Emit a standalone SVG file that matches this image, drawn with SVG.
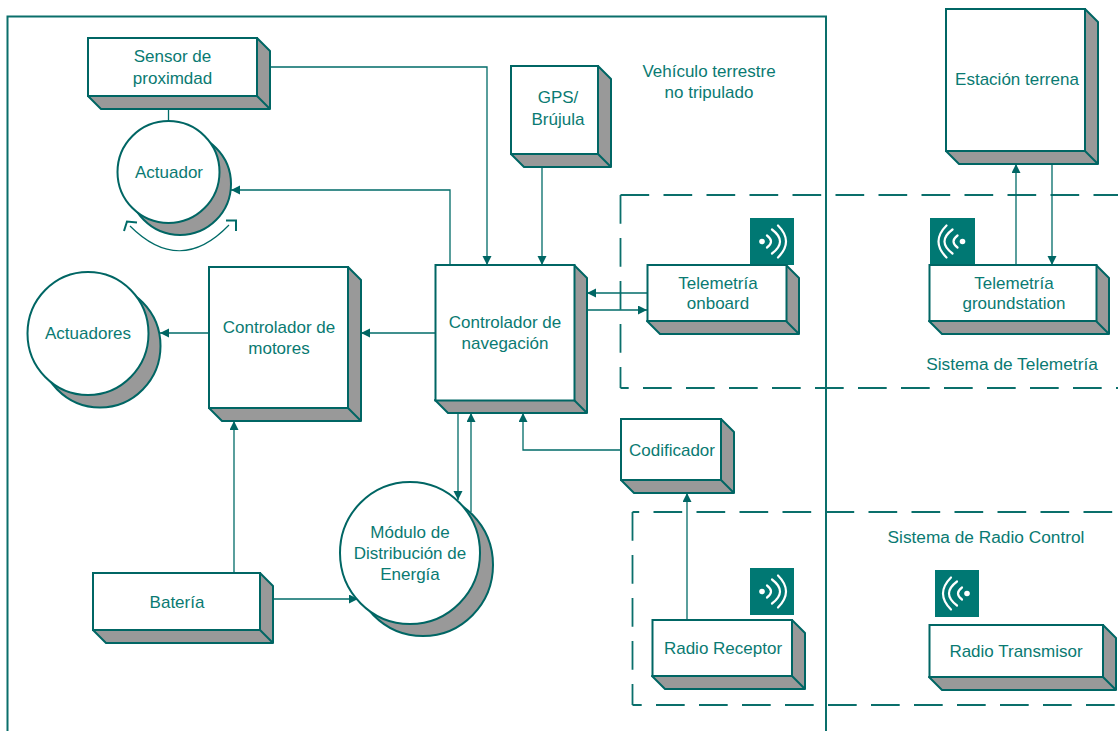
<svg xmlns="http://www.w3.org/2000/svg" width="1118" height="731" viewBox="0 0 1118 731">
<style>
text{font-family:"Liberation Sans",Arial,sans-serif;font-size:17px;fill:#0a7a72;text-anchor:middle}
.l{font-size:17.300px}
.f{fill:#fff;stroke:#006664;stroke-width:2}
.s{fill:#999;stroke:#006664;stroke-width:2;stroke-linejoin:round}
.c{fill:none;stroke:#006b68;stroke-width:1.300}
.a{marker-end:url(#arr)}
.d{fill:none;stroke:#0a6f6b;stroke-width:1.800;stroke-dasharray:28.700 14.300}
.ic{fill:#007873}
.w{fill:none;stroke:#fff;stroke-width:2.200;stroke-linecap:round}
</style>
<defs>
<marker id="arr" markerUnits="userSpaceOnUse" markerWidth="10" markerHeight="10" refX="9" refY="4.500" orient="auto"><path d="M0 0L9 4.500L0 9z" fill="#006664"/></marker>
<g id="txr"><circle cx="-10" cy="0" r="2.800" fill="#fff" stroke="none"/><path class="w" d="M-5-6Q3 0-5 6M0-12Q16 0 0 12M6-16Q22 0 6 16"/></g>
<g id="txl"><circle cx="10" cy="0" r="2.800" fill="#fff" stroke="none"/><path class="w" d="M5-6Q-3 0 5 6M0-12Q-16 0 0 12M-6-16Q-22 0-6 16"/></g>
</defs>
<g id="frames">
<path d="M826 731V16.500H7.500V731" fill="none" stroke="#0a6f6b" stroke-width="2"/>
<path class="d" d="M620.500 195H1118"/>
<path class="d" d="M620.500 195V388"/>
<path class="d" d="M620.500 388H1118" stroke-dashoffset="20.500"/>
<path class="d" d="M632.500 512H1118" stroke-dashoffset="22"/>
<path class="d" d="M632.500 512V705"/>
<path class="d" d="M632.500 705H1118" stroke-dashoffset="19.500"/>
</g>
<g id="connectors">
<path class="c a" d="M270 67H487V265"/>
<path class="c a" d="M542 167V265"/>
<path class="c a" d="M450 265V190H231"/>
<path class="c" d="M168.500 109V121"/>
<path class="c a" d="M435 333H361"/>
<path class="c a" d="M209 333H160"/>
<path class="c a" d="M647 293H587"/>
<path class="c a" d="M587 310H647"/>
<path class="c a" d="M1016 265V164"/>
<path class="c a" d="M1052 164V265"/>
<path class="c a" d="M458 413V500"/>
<path class="c a" d="M471 512V413"/>
<path class="c a" d="M621 450H523V413"/>
<path class="c a" d="M687 620V493"/>
<path class="c a" d="M234 573V421"/>
<path class="c a" d="M273 599H358"/>
</g>
<g id="sensor"><path class="s" d="M88 96L101 109H270V51L257 38V96z"/><path class="s" d="M257 96L270 109"/><rect class="f" x="88" y="38" width="169" height="58"/><text x="172.500" y="62">Sensor de</text><text x="172.500" y="84">proximdad</text></g>
<g id="actuador"><circle class="s" cx="180" cy="184" r="51"/><circle class="f" cx="168.500" cy="172" r="51"/><text x="169" y="178">Actuador</text>
<path d="M130 226Q180 276 229 225" fill="none" stroke="#006b68" stroke-width="1.200"/><path d="M124 231L127 221.500L137 222.500M226 220.500H236V231" fill="none" stroke="#006b68" stroke-width="2"/></g>
<g id="gps"><path class="s" d="M511 154L524 167H611V79L598 66V154z"/><path class="s" d="M598 154L611 167"/><rect class="f" x="511" y="66" width="87" height="88"/><text x="558" y="103">GPS/</text><text x="558" y="125">Brújula</text></g>
<text x="709" y="77">Vehículo terrestre</text><text x="709" y="98">no tripulado</text>
<g id="estacion"><path class="s" d="M946 151L959 164H1098V22L1085 9V151z"/><path class="s" d="M1085 151L1098 164"/><rect class="f" x="946" y="9" width="139" height="142"/><text x="1017" y="85">Estación terrena</text></g>
<g id="tele-onboard"><rect class="ic" x="750" y="218" width="44" height="47"/><use href="#txr" x="772" y="241.500"/><path class="s" d="M647 321L660 334H799V278L786 265V321z"/><path class="s" d="M786 321L799 334"/><rect class="f" x="647.500" y="265" width="139" height="56"/><text x="718" y="289">Telemetría</text><text x="718" y="309">onboard</text></g>
<g id="tele-ground"><rect class="ic" x="930" y="218" width="45" height="47"/><use href="#txl" x="952.500" y="241.500"/><path class="s" d="M929 321L942 334H1109V278L1096 265V321z"/><path class="s" d="M1096 321L1109 334"/><rect class="f" x="929.500" y="265" width="167" height="56"/><text x="1014" y="289">Telemetría</text><text x="1014" y="309">groundstation</text></g>
<text class="l" x="1012" y="370">Sistema de Telemetría</text>
<g id="actuadores"><ellipse class="s" cx="100" cy="346" rx="60.500" ry="61.500"/><ellipse class="f" cx="88" cy="333.500" rx="60.500" ry="61.500"/><text x="88" y="339">Actuadores</text></g>
<g id="motores"><path class="s" d="M209 408L222 421H361V280L348 267V408z"/><path class="s" d="M348 408L361 421"/><rect class="f" x="209" y="267" width="139" height="141"/><text x="279" y="333">Controlador de</text><text x="279" y="354">motores</text></g>
<g id="navegacion"><path class="s" d="M435 400L448 413H587V278L574 265V400z"/><path class="s" d="M574 400L587 413"/><rect class="f" x="435.500" y="265" width="139" height="135.500"/><text x="505" y="328">Controlador de</text><text x="505" y="349">navegación</text></g>
<g id="codificador"><path class="s" d="M621 480L634 493H734V432L721 419V480z"/><path class="s" d="M721 480L734 493"/><rect class="f" x="621" y="419" width="100" height="61"/><text x="672" y="456">Codificador</text></g>
<g id="bateria"><path class="s" d="M93 630L106 643H273V586L260 573V630z"/><path class="s" d="M260 630L273 643"/><rect class="f" x="93" y="573" width="167" height="57"/><text x="177" y="608">Batería</text></g>
<g id="modulo"><ellipse class="s" cx="423" cy="565" rx="70" ry="71"/><ellipse class="f" cx="410" cy="553" rx="70" ry="71"/><text x="410" y="538">Módulo de</text><text x="410" y="559">Distribución de</text><text x="410" y="580">Energía</text></g>
<g id="radio-rx"><rect class="ic" x="750" y="568" width="44" height="47"/><use href="#txr" x="772" y="591.500"/><path class="s" d="M652 676L665 689H805V633L792 620V676z"/><path class="s" d="M792 676L805 689"/><rect class="f" x="652.500" y="620" width="139.500" height="56"/><text x="723" y="654">Radio Receptor</text></g>
<text class="l" x="986" y="543">Sistema de Radio Control</text>
<g id="radio-tx"><rect class="ic" x="935" y="570" width="44" height="47"/><use href="#txl" x="957" y="593.500"/><path class="s" d="M929 677L942 690H1116V638L1103 625V677z"/><path class="s" d="M1103 677L1116 690"/><rect class="f" x="929.500" y="625" width="173.500" height="52"/><text x="1016" y="657">Radio Transmisor</text></g>
</svg>
